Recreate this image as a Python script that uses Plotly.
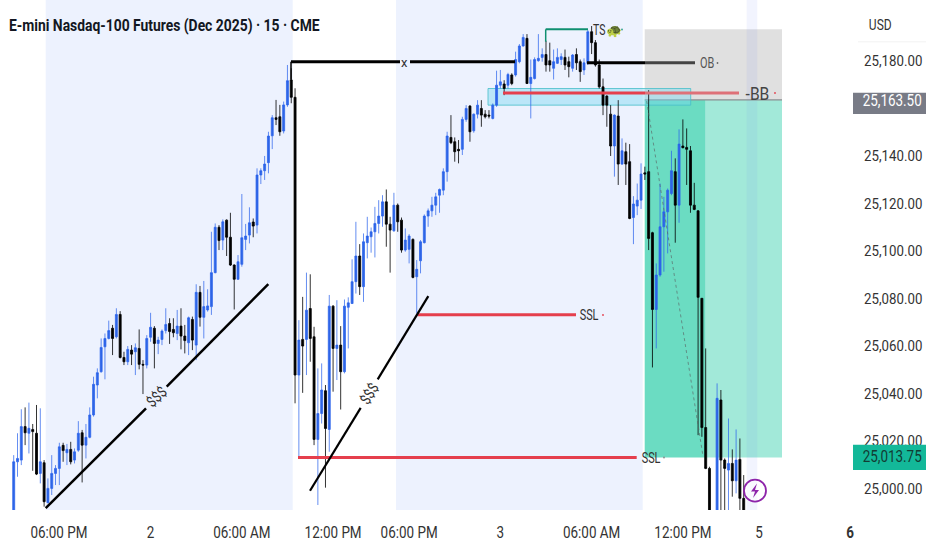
import json
import plotly.graph_objects as go

TITLE = "E-mini Nasdaq-100 Futures (Dec 2025) · 15 · CME"

HIGH = [25014.0,25023.2,25033.3,25034.1,25036.1,25027.1,25035.1,25033.7,25011.9,25004.2,
25014.0,25009.8,25019.2,25019.2,25018.7,25019.6,25016.8,25028.3,25024.6,25027.1,
25034.1,25047.0,25050.5,25063.1,25065.2,25070.6,25068.8,25075.8,25074.6,25057.5,
25059.9,25060.3,25061.0,25066.9,25054.0,25064.5,25073.9,25068.3,25063.8,25066.9,
25075.8,25071.6,25071.6,25075.1,25075.8,25068.8,25072.3,25072.3,25085.9,25085.2,
25087.3,25083.8,25108.0,25111.5,25110.8,25113.2,25113.2,25116.0,25094.3,25098.2,
25123.9,25111.3,25118.3,25113.6,25134.7,25134.7,25139.9,25150.1,25157.1,25163.5,
25161.4,25162.8,25178.2,25176.8,25168.4,25070.8,25080.6,25090.8,25090.1,25068.0,
25050.5,25052.6,25043.5,25081.4,25077.1,25079.2,25068.3,25079.5,25080.4,25096.4,
25112.2,25102.8,25107.3,25114.3,25109.8,25118.5,25121.3,25123.4,25125.8,25114.3,
25124.4,25119.9,25114.0,25109.4,25107.0,25105.2,25096.1,25104.5,25115.3,25117.8,
25122.7,25124.4,25126.2,25134.7,25150.1,25157.1,25147.7,25146.6,25156.4,25161.3,
25161.3,25157.8,25163.4,25163.4,25159.2,25159.2,25162.0,25175.8,25176.1,25171.8,
25174.9,25174.7,25183.8,25187.0,25191.2,25191.2,25180.5,25181.4,25191.2,25185.2,
25188.4,25187.6,25184.7,25185.2,25183.1,25184.7,25181.7,25182.8,25185.2,25180.5,
25181.0,25192.9,25194.6,25188.7,25180.5,25172.5,25165.5,25161.3,25157.4,25163.4,
25147.3,25145.5,25144.9,25123.0,25128.3,25136.8,25135.4,25167.6,25108.0,25094.7,
25128.3,25122.7,25126.2,25142.1,25138.9,25151.1,25155.3,25151.5,25144.1,25128.6,
25117.1,25080.0,25058.9,25009.1,24989.0,25044.2,25041.4,25012.6,25029.4,25016.4,
25024.8,25021.0,25005.6]

BODY_TOP = [25011.2,25012.6,25026.0,25026.0,25025.3,25024.8,25023.2,25011.2,25010.8,25000.0,
25006.3,25008.4,25017.5,25018.1,25016.4,25016.4,25015.4,25023.2,25023.4,25021.5,
25030.9,25043.8,25048.7,25059.3,25063.1,25066.4,25067.4,25073.2,25073.2,25055.1,
25058.5,25058.2,25059.2,25058.9,25052.2,25063.1,25067.8,25067.4,25062.4,25066.2,
25069.0,25069.4,25066.9,25068.3,25068.3,25064.1,25071.8,25071.1,25082.5,25082.5,
25076.5,25076.8,25090.8,25109.9,25109.9,25112.2,25112.9,25105.7,25094.0,25095.4,
25105.5,25106.2,25111.8,25112.1,25131.9,25133.7,25136.5,25148.3,25156.0,25156.0,
25156.4,25161.4,25171.6,25171.9,25164.6,25062.4,25062.7,25075.0,25075.7,25063.8,
25031.5,25041.4,25041.1,25076.7,25076.7,25060.3,25060.3,25076.7,25078.1,25087.0,
25097.8,25097.8,25103.8,25106.2,25108.0,25111.5,25114.6,25120.6,25120.6,25111.2,
25119.2,25119.2,25112.9,25104.5,25106.2,25104.8,25092.2,25103.8,25114.6,25116.8,
25119.2,25122.7,25125.8,25133.3,25148.3,25147.7,25145.9,25142.7,25155.3,25159.9,
25160.9,25157.5,25161.3,25159.9,25157.5,25157.1,25161.3,25169.7,25171.1,25170.2,
25174.2,25174.0,25180.5,25186.2,25189.8,25189.4,25173.0,25180.5,25181.0,25182.6,
25182.6,25180.0,25179.6,25181.4,25181.7,25181.4,25179.6,25182.4,25182.6,25179.6,
25179.1,25192.2,25192.2,25187.6,25178.2,25169.0,25165.1,25157.5,25157.1,25156.7,
25142.1,25141.7,25137.5,25119.7,25121.3,25132.3,25132.8,25133.3,25107.6,25089.8,
25110.1,25116.4,25125.5,25133.7,25133.3,25144.9,25144.1,25143.5,25142.1,25119.2,
25116.8,25080.0,25025.6,25008.4,24988.0,25037.9,25037.2,25011.9,25010.5,25010.5,
25011.9,25012.2,24995.8]

BODY_BOTTOM = [24985.0,25011.2,25011.9,25023.4,25023.2,25023.9,25006.0,25006.3,24994.4,24994.0,
25000.0,25006.3,25008.4,25015.9,25015.0,25011.2,25011.9,25016.1,25018.2,25018.2,
25021.5,25030.9,25043.5,25049.1,25059.6,25063.1,25063.1,25063.8,25055.1,25053.3,
25053.3,25056.5,25057.5,25052.2,25051.9,25051.9,25063.6,25061.0,25061.0,25062.7,
25066.4,25066.0,25065.5,25065.2,25064.1,25062.2,25061.3,25062.4,25060.3,25072.0,
25072.0,25075.1,25076.5,25090.8,25104.3,25104.5,25105.7,25094.0,25088.0,25088.0,
25094.3,25104.8,25106.6,25110.4,25110.8,25131.9,25133.7,25137.1,25148.4,25155.3,
25150.1,25150.4,25161.4,25164.6,25047.7,25047.7,25059.9,25062.7,25063.1,25020.6,
25020.6,25031.5,25025.2,25024.8,25058.9,25058.9,25049.1,25049.1,25076.2,25077.8,
25087.0,25084.9,25084.9,25103.4,25105.9,25108.0,25111.5,25114.6,25111.2,25108.7,
25108.4,25112.2,25100.3,25100.3,25100.6,25088.8,25089.1,25095.8,25103.4,25114.6,
25116.8,25119.2,25123.4,25125.5,25133.3,25145.5,25141.7,25142.1,25142.7,25155.3,
25150.1,25150.5,25157.5,25157.1,25156.4,25156.7,25155.7,25161.3,25169.7,25168.3,
25169.7,25170.4,25174.0,25179.6,25186.2,25170.4,25170.4,25172.5,25180.0,25181.4,
25178.2,25178.2,25176.8,25178.9,25180.5,25178.2,25177.5,25176.8,25179.1,25175.4,
25176.1,25178.9,25187.6,25178.2,25169.0,25161.3,25161.3,25144.1,25144.1,25136.5,
25136.5,25136.5,25113.6,25114.0,25118.8,25121.3,25132.3,25105.2,25075.3,25075.3,
25089.8,25110.1,25116.4,25124.1,25119.2,25119.2,25143.4,25142.7,25119.2,25117.4,
25080.4,25025.6,25008.4,24986.7,24980.0,24986.7,25011.9,25008.4,25007.7,25003.2,
25003.2,24995.8,24986.7]

LOW = [24980.0,25004.9,25009.8,25018.2,25014.7,25007.4,25005.6,25002.1,24992.3,24993.7,
24997.2,25001.4,25001.4,25011.2,25009.8,25010.1,25010.5,25015.4,25002.5,25012.6,
25021.1,25030.2,25037.9,25048.7,25045.9,25062.7,25056.1,25063.1,25054.7,25051.9,
25051.9,25051.9,25047.7,25050.1,25039.7,25050.5,25061.7,25050.5,25056.5,25060.3,
25065.2,25060.8,25063.6,25062.4,25058.5,25056.8,25056.1,25058.2,25054.0,25068.1,
25063.1,25074.4,25073.0,25090.5,25100.3,25100.3,25097.8,25093.6,25075.3,25087.7,
25093.3,25100.3,25103.1,25105.7,25107.3,25128.1,25129.8,25132.6,25142.8,25152.9,
25148.4,25149.4,25160.6,25162.1,25035.8,25013.3,25040.2,25047.7,25053.3,25018.2,
24993.0,25027.3,25000.3,25015.4,25040.7,25045.6,25033.2,25048.4,25058.9,25077.6,
25082.0,25081.4,25078.5,25096.8,25099.2,25097.2,25107.3,25110.1,25101.7,25090.8,
25108.0,25108.0,25099.2,25099.6,25094.7,25088.4,25073.6,25090.5,25103.1,25110.1,
25114.3,25115.0,25116.0,25123.4,25129.1,25144.9,25137.5,25136.8,25140.3,25154.3,
25145.9,25149.7,25155.7,25152.2,25155.7,25155.7,25155.3,25160.6,25168.3,25165.5,
25168.3,25169.7,25173.3,25178.9,25185.9,25170.2,25155.7,25172.1,25179.6,25179.6,
25175.4,25175.4,25172.1,25178.6,25178.2,25176.1,25173.0,25175.4,25176.1,25171.1,
25174.0,25178.2,25182.8,25177.5,25168.3,25157.1,25152.2,25139.9,25131.2,25127.7,
25136.1,25127.7,25113.3,25102.8,25115.0,25117.6,25129.8,25100.3,25050.9,25058.9,
25089.1,25091.2,25098.9,25123.4,25103.4,25111.8,25143.1,25127.7,25116.0,25117.1,
25022.4,25021.7,25008.1,24983.9,24978.0,24983.9,24983.9,24986.7,24986.7,24996.5,
24997.9,24986.7,24985.2]

RISING = ("UUUDUDDUDU" "UUUDUDUUDU" "UUUUUUDUDD" "UDUDDUUDUU" "UDDUDDUDUD"
          "UUUUDUDDDU" "UUUDUUUUUD" "DUUDDUDUDD" "UUDUDUDUUU" "UDUUUUUUDD"
          "UDDUUDUUUU" "UUUUUDDDUU" "DUUDDDUUUD" "UDUUUDUUUU" "DDUUUDDUDD"
          "UUDDDDDDUD" "UDDUUUDDDU" "UUUUDUDDDD" "DDDDDUDDUD" "UDD")

OPEN = [b if r == "U" else t for t, b, r in zip(BODY_TOP, BODY_BOTTOM, RISING)]
CLOSE = [t if r == "U" else b for t, b, r in zip(BODY_TOP, BODY_BOTTOM, RISING)]
BARS = list(range(len(HIGH)))

PRICE_TICKS = [25180, 25140, 25120, 25100, 25080, 25060, 25040, 25020, 25000]
TIME_LABELS = ["06:00 PM", "2", "06:00 AM", "12:00 PM", "06:00 PM", "3", "06:00 AM", "12:00 PM", "5", "<b>6</b>"]
TIME_BARS = [11.9, 36.0, 60.0, 84.0, 104.0, 128.0, 152.0, 176.0, 196.0, 220.0]

# price levels of the drawings
OB_LEVEL = 25179.1
X_LEVEL = 25179.6
BB_LEVEL = 25166.4
ENTRY = 25163.5
TARGET = 25013.0
STOP = 25193.2
SSL_A = 25073.1
SSL_B = 25013.0

W, H = 932, 550
PLOT_W, PLOT_H = 858, 510
STEP = 730 / 192
X0 = 13.7
BOT, TOP = 24990.9, 25205.55

def bx(px):
    return (px - X0) / STEP

def pr(y):
    return TOP - y / PLOT_H * (TOP - BOT)

def seg(x0, p0, x1, p1, color, width=3, dash=None, layer="above"):
    return dict(type="line", x0=bx(x0), x1=bx(x1), y0=p0, y1=p1, xref="x", yref="y",
                layer=layer, line=dict(color=color, width=width, dash=dash))

def box(x0, x1, p0, p1, fill, line=None, layer="below"):
    return dict(type="rect", x0=bx(x0), x1=bx(x1), y0=p0, y1=p1, xref="x", yref="y", layer=layer,
                fillcolor=fill, line=dict(width=1 if line else 0, color=line or "rgba(0,0,0,0)"))

def dot(px, y, color, r=0.9):
    return dict(type="circle", xref="x", yref="y", x0=bx(px - r), x1=bx(px + r), y0=pr(y + r), y1=pr(y - r),
                fillcolor=color, line=dict(width=0), layer="above")

BAND = "#edf2fe"
RED = "#e53f4d"
shapes = [
    box(45.7, 292.7, BOT, TOP, BAND),
    box(396, 642.7, BOT, TOP, BAND),
    box(644.7, 782, ENTRY, STOP, "#e0e0e0"),
    box(644.7, 705.7, TARGET, ENTRY, "#6bdcc2"),
    box(705.7, 782, TARGET, ENTRY, "#a2e9d9"),
    box(746.7, 757.3, BOT, TOP, "rgba(110,130,240,0.09)"),
    seg(644.7, ENTRY, 782, ENTRY, "#8a8f92", 1.2, layer="below"),
    box(488, 690.7, 25161.3, 25168.3, "rgba(120,215,240,0.42)", "rgba(70,190,200,0.8)", layer="below"),
    seg(291, X_LEVEL, 400, X_LEVEL, "#000000"),
    seg(410, X_LEVEL, 515, X_LEVEL, "#000000"),
    seg(291, X_LEVEL, 291, 25172.0, "#000000", 1.5),
    seg(587, OB_LEVEL, 645, OB_LEVEL, "#000000"),
    seg(645, OB_LEVEL, 695, OB_LEVEL, "#444444"),
    seg(503, BB_LEVEL, 645, BB_LEVEL, RED),
    seg(645, BB_LEVEL, 739, BB_LEVEL, "#de7078"),
    seg(545.7, STOP, 588, STOP, "#0f8f70", 2),
    seg(545.7, STOP, 545.7, 25188.0, "#0f8f70", 1.5),
    seg(417.7, SSL_A, 576, SSL_A, RED),
    seg(298, SSL_B, 636.7, SSL_B, RED),
    seg(45.7, 24991.7, 146, 25033.7, "#000000", 2.5),
    seg(166.7, 25042.8, 268.3, 25086.0, "#000000", 2.5),
    seg(310, 24999.0, 360.7, 25033.9, "#000000", 2.2),
    seg(377.7, 25045.9, 428.3, 25080.9, "#000000", 2.2),
    seg(646.7, 25163.0, 703, 25013.5, "rgba(90,100,100,0.65)", 1, dash="3px,3px"),
    dot(717.5, 63, "#666666"),
    dot(775, 93, RED),
    dot(622, 29.5, "#2a9d8f"),
    dot(603, 315, RED),
    dot(664, 457.5, "#8a8a8a"),
    # purple badge
    dict(type="circle", xref="x", yref="y", x0=bx(744), x1=bx(766), y0=pr(501.7), y1=pr(479.7),
         fillcolor="rgba(255,255,255,0.5)", line=dict(color="#8e24aa", width=1.8), layer="above"),
]
bolt = [(757, 483.5), (751, 491.5), (755, 491.5), (753, 498), (759, 490), (755, 490)]
shapes.append(dict(type="path", xref="x", yref="y", layer="above", fillcolor="#8e24aa",
                   line=dict(width=0, color="#8e24aa"),
                   path="M" + " L".join(f"{bx(a):.3f},{pr(b):.3f}" for a, b in bolt) + " Z"))
# right price panel
def pbox(x0, x1, y0, y1, fill):
    return dict(type="rect", xref="paper", yref="paper", x0=x0 / PLOT_W, x1=x1 / PLOT_W,
                y0=1 - y1 / PLOT_H, y1=1 - y0 / PLOT_H, fillcolor=fill, layer="above", line=dict(width=0))
shapes += [
    pbox(853, 926, 92.7, 114, "#787b86"),
    pbox(853, 926, 444.7, 470, "#13b899"),
    pbox(858, 926, 41.5, 42.3, "#eeeeee"),
]

FONT = "Roboto, sans-serif"
def note(px, y, text, size=13, color="#333333", angle=0, family=FONT, weight=None):
    return dict(x=px / PLOT_W, y=1 - y / PLOT_H, xref="paper", yref="paper", text=text, showarrow=False,
                textangle=angle, xanchor="center", yanchor="middle", borderpad=0, borderwidth=0,
                font=dict(size=size, color=color, family=family, weight=weight))

annotations = [
    note(164.5, 25, TITLE, 17, "#131722", weight=700),
    note(880, 25, "USD", 15, "#333333"),
    note(404, 62, "x", 13, "#333333"),
    note(706.5, 63, "OB", 14, "#555555"),
    note(757, 93, "-BB", 19, "#444444"),
    note(599, 29.5, "TS", 14, "#333333"),
    note(614, 30, "🐢", 13, "#3c8c2a", family="Noto Color Emoji, sans-serif"),
    note(589.5, 315, "SSL", 14, "#333333"),
    note(651, 457.5, "SSL", 14, "#333333"),
    note(156.5, 397, "$$$", 15, "#333333", angle=-43),
    note(369.3, 394, "$$$", 15, "#333333", angle=-58),
    note(891.5, 100.5, "25,163.50", 16, "#ffffff"),
    note(891.5, 456.5, "25,013.75", 16, "#123c33"),
]

fig = go.Figure(go.Candlestick(
    x=BARS, open=OPEN, high=HIGH, low=LOW, close=CLOSE,
    increasing=dict(line=dict(color="rgba(41,98,235,0.72)", width=1), fillcolor="#2f66e6"),
    decreasing=dict(line=dict(color="rgba(0,0,0,0.8)", width=1), fillcolor="#000000"),
    whiskerwidth=0, hoverinfo="skip", showlegend=False,
))
fig.update_layout(
    template="none",
    width=W, height=H, autosize=False,
    margin=dict(l=0, r=W - PLOT_W, t=0, b=H - PLOT_H, pad=0),
    paper_bgcolor="#ffffff", plot_bgcolor="#ffffff",
    showlegend=False, shapes=shapes, annotations=annotations, boxgap=0.25,
    font=dict(family=FONT),
    xaxis=dict(range=[bx(0), bx(PLOT_W)], rangeslider=dict(visible=False), showgrid=False, zeroline=False,
               showline=False, automargin=False, tickmode="array", tickvals=TIME_BARS, ticktext=TIME_LABELS,
               ticks="outside", ticklen=8, tickcolor="rgba(0,0,0,0)", tickangle=0,
               tickfont=dict(size=16, color="#333333", family=FONT)),
    yaxis=dict(range=[BOT, TOP], side="right", showgrid=False, zeroline=False, showline=False,
               automargin=False, tickmode="array", tickvals=PRICE_TICKS, tickformat=",.2f",
               ticks="outside", ticklen=2, tickcolor="rgba(0,0,0,0)",
               tickfont=dict(size=15.5, color="#333333", family=FONT)),
)

# the reference's text is taller and narrower than any installed font: squeeze the real text
SQUEEZE = {TITLE: 0.816, "USD": 0.8, "OB": 0.78, "-BB": 0.82, "TS": 0.75, "SSL": 0.78, "$$$": 0.85,
           "25,163.50": 0.84, "25,013.75": 0.84}
post = """
document.body.style.margin='0';
(function(){
  var M=%s;
  function sq(e,f){ if(e.hasAttribute('textLength')) return;
    var n=e.getComputedTextLength(); if(!n) return;
    e.setAttribute('textLength',n*f); e.setAttribute('lengthAdjust','spacingAndGlyphs'); }
  function run(){
    document.querySelectorAll('.xtick text').forEach(function(e){sq(e,0.84);});
    document.querySelectorAll('.ytick text').forEach(function(e){sq(e,0.855);});
    document.querySelectorAll('.annotation-text').forEach(function(e){
      var f=M[e.textContent]; if(f) sq(e,f); });
  }
  run(); setTimeout(run,100); setTimeout(run,400);
})();
""" % json.dumps(SQUEEZE, ensure_ascii=False)
fig.write_html("out.html", config=dict(displayModeBar=False), post_script=post)
